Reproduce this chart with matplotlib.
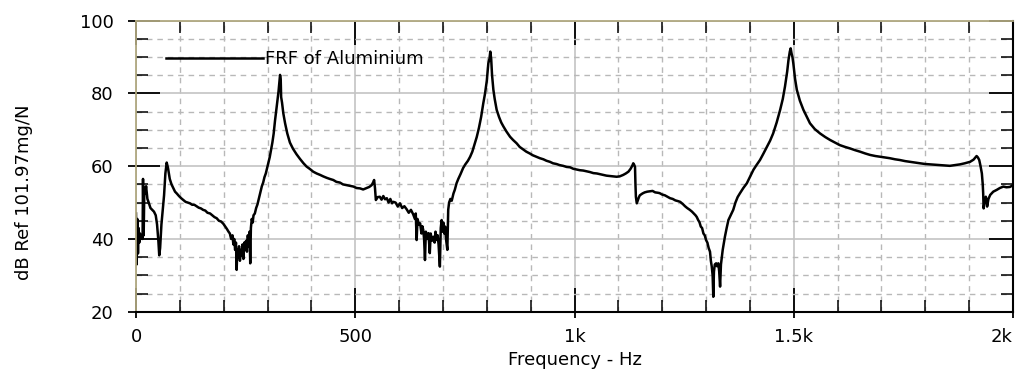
import matplotlib

matplotlib.use("Agg")

import matplotlib.pyplot as plt
from matplotlib.ticker import MultipleLocator, FixedLocator

# FRF of the aluminium specimen
freq = [
    0, 1.5, 3, 4.5, 6, 7.5, 9, 11, 13, 15, 16, 17.5, 19, 21, 23, 26, 29, 33, 37, 41,
    45, 48, 51, 53, 55, 58, 61, 64, 67, 70, 73, 77, 81, 85, 89, 93, 98, 103, 108, 113,
    118, 123, 128, 133, 138, 143, 148, 153, 158, 163, 169, 174, 179, 184, 189, 194, 199, 203, 207, 211,
    214, 217, 220, 222, 224, 226, 228, 229.5, 231, 233, 235, 237, 239, 241, 243, 245, 247, 249, 251, 253,
    255, 257, 259, 260.5, 262, 264, 266, 268, 271, 274, 277, 281, 284, 287, 290, 293, 296, 299, 302, 305,
    308, 311, 314, 317, 320, 323, 325, 327, 328.5, 330, 331, 333, 336, 340, 345, 351, 358, 366, 374, 382,
    389, 397, 404, 412, 420, 427, 435, 442, 450, 457, 465, 472, 480, 488, 496, 503, 511, 518, 526, 532,
    537.5, 541, 543, 545, 547, 551, 556, 560, 564, 568, 572, 576, 580, 584, 587, 592, 597, 602, 607, 612,
    617, 622, 627, 632, 636, 638, 640, 642, 645, 648, 651, 653, 655, 657, 659, 661, 664, 667, 670, 672,
    675, 678, 681, 683, 686, 688, 690, 693, 695, 697, 699, 701, 703, 705, 707, 710, 712, 714, 717, 720,
    724, 727, 731, 735, 740, 746, 751, 757, 762, 767, 772, 777, 782, 787, 792, 796, 800, 803.5, 806, 808,
    810, 812, 815, 818, 822.5, 828, 833, 838, 845, 853, 860, 868, 875, 883, 890, 898, 905, 913, 921, 929,
    936, 944, 951, 959, 966, 974, 982, 990, 997, 1005, 1012, 1020, 1028, 1035, 1043, 1051, 1058, 1066, 1073, 1081,
    1088, 1096, 1103, 1111, 1117, 1123, 1128, 1132, 1134, 1136, 1138, 1139, 1140, 1142, 1144, 1147, 1149, 1155, 1160, 1166,
    1172, 1178, 1184, 1190, 1194, 1200, 1206, 1212, 1218, 1224, 1230, 1236, 1241, 1247, 1252, 1257, 1263, 1268, 1272, 1276,
    1279, 1282, 1285, 1288, 1291, 1294, 1297, 1300, 1303, 1306, 1309, 1311, 1313, 1315, 1316.5, 1318, 1320, 1323, 1325, 1328,
    1330, 1332, 1334, 1336, 1338, 1340, 1343, 1347, 1351, 1356, 1362, 1367, 1372, 1377, 1385, 1393, 1400, 1408, 1415, 1423,
    1431, 1439, 1446, 1453, 1461, 1469, 1475, 1480, 1485, 1488, 1491, 1493, 1495, 1497, 1499, 1503, 1507, 1514, 1522, 1530,
    1537, 1548, 1560, 1572, 1583, 1594, 1605, 1617, 1628, 1640, 1651, 1663, 1674, 1686, 1697, 1708, 1719, 1731, 1742, 1754,
    1765, 1777, 1788, 1800, 1811, 1822, 1834, 1845, 1856, 1868, 1879, 1890, 1902, 1910, 1917, 1920, 1923, 1926, 1929, 1931,
    1932, 1933, 1935, 1938, 1940, 1941, 1944, 1948, 1955, 1963, 1970, 1978, 1985, 1993, 2000,
]
db = [
    47.0, 33.0, 45.5, 36.0, 43.0, 39.0, 41.5, 40.0, 41.0, 40.0, 56.5, 41.0, 54.0, 52.5, 54.5, 51.0, 50.0, 48.5, 48.0, 47.5,
    46.5, 44.0, 39.5, 35.5, 37.5, 44.0, 48.0, 52.0, 58.0, 61.0, 59.5, 56.5, 55.0, 54.0, 53.0, 52.5, 51.8, 51.2, 50.7, 50.2,
    50.0, 49.8, 49.4, 49.4, 49.0, 48.6, 48.4, 48.0, 47.8, 47.2, 47.0, 46.5, 46.0, 45.7, 45.0, 44.8, 44.2, 43.5, 42.8, 42.0,
    41.5, 40.0, 41.0, 38.5, 40.0, 37.0, 39.0, 31.5, 37.0, 35.0, 38.0, 34.0, 37.0, 35.5, 38.5, 34.5, 39.0, 37.0, 39.5, 36.5,
    41.0, 38.0, 42.0, 33.3, 43.0, 45.5, 44.5, 46.5, 47.0, 48.5, 49.5, 51.5, 53.0, 54.5, 55.5, 57.0, 58.0, 59.5, 61.0, 62.5,
    64.5, 66.5, 69.0, 72.5, 75.5, 78.5, 80.5, 83.0, 85.1, 84.0, 79.0, 77.5, 74.5, 71.8, 69.0, 66.5, 64.8, 63.3, 62.0, 60.8,
    59.9, 59.2, 58.5, 58.0, 57.6, 57.2, 56.8, 56.5, 56.2, 55.7, 55.5, 55.0, 54.8, 54.6, 54.4, 54.0, 53.9, 53.6, 54.0, 54.3,
    54.8, 55.6, 56.2, 54.0, 50.7, 51.5, 51.6, 50.8, 51.8, 50.9, 51.2, 50.0, 51.0, 49.8, 50.2, 50.0, 48.9, 49.8, 48.5, 49.0,
    48.2, 47.2, 48.0, 46.8, 45.5, 47.0, 39.7, 45.5, 44.0, 44.3, 41.5, 43.5, 42.5, 40.0, 34.2, 42.0, 40.0, 41.6, 36.1, 41.5,
    39.5, 40.6, 39.0, 42.0, 39.7, 41.0, 38.5, 32.4, 43.0, 45.2, 42.0, 44.5, 41.5, 43.4, 40.0, 37.0, 48.0, 50.0, 51.0, 50.5,
    52.5, 53.5, 55.3, 56.5, 57.8, 59.5, 60.5, 61.5, 62.6, 64.0, 66.0, 68.0, 70.5, 73.5, 77.3, 80.0, 83.5, 88.3, 89.5, 91.5,
    89.5, 85.0, 81.0, 78.5, 75.5, 73.5, 72.0, 70.9, 69.5, 68.1, 67.2, 66.3, 65.3, 64.6, 64.0, 63.5, 63.0, 62.6, 62.2, 61.9,
    61.5, 61.2, 60.8, 60.6, 60.3, 60.1, 59.8, 59.7, 59.3, 59.1, 58.9, 58.8, 58.6, 58.4, 58.1, 58.0, 57.8, 57.6, 57.4, 57.3,
    57.2, 57.1, 57.2, 57.6, 58.0, 58.5, 59.3, 60.2, 60.8, 60.4, 59.8, 55.0, 51.6, 49.8, 50.5, 51.5, 52.0, 52.5, 52.8, 53.0,
    53.1, 53.2, 52.8, 52.7, 52.6, 52.2, 52.0, 51.6, 51.2, 51.0, 50.6, 50.4, 50.2, 49.6, 49.0, 48.5, 48.0, 47.5, 47.0, 46.5,
    46.0, 45.2, 44.6, 43.4, 43.0, 41.5, 41.0, 39.7, 39.0, 37.5, 36.5, 34.0, 32.4, 30.0, 24.1, 31.0, 33.0, 33.3, 32.5, 33.3,
    31.0, 26.9, 33.0, 35.1, 37.0, 38.5, 40.6, 43.0, 45.2, 46.5, 48.0, 50.0, 51.5, 52.5, 54.0, 55.3, 57.0, 59.0, 60.3, 61.7,
    63.5, 65.4, 67.0, 69.0, 72.0, 75.5, 78.5, 81.9, 86.0, 89.2, 91.5, 92.4, 91.0, 90.0, 88.3, 84.0, 81.0, 78.0, 75.5, 73.5,
    71.8, 70.2, 69.0, 68.0, 67.2, 66.5, 65.8, 65.3, 64.9, 64.4, 64.0, 63.5, 63.1, 62.8, 62.6, 62.4, 62.2, 61.9, 61.7, 61.4,
    61.2, 61.0, 60.8, 60.6, 60.5, 60.4, 60.3, 60.2, 60.1, 60.3, 60.5, 60.8, 61.2, 61.8, 62.8, 62.4, 61.7, 60.0, 58.0, 55.0,
    52.5, 48.4, 50.0, 51.6, 50.5, 48.9, 51.0, 52.1, 53.0, 53.5, 54.0, 54.4, 54.2, 54.3, 54.8,
]

x_ticks = [0, 500, 1000, 1500, 2000]
x_ticklabels = ["0", "500", "1k", "1.5k", "2k"]
y_ticks = [20, 40, 60, 80, 100]

plt.rcParams["font.family"] = "DejaVu Sans"

fig = plt.figure(figsize=(10.16, 3.74), dpi=100)
ax = fig.add_axes([136 / 1016, 62.3 / 374, 877 / 1016, 291 / 374])

ax.plot(freq, db, color="black", lw=1.8, label="FRF of Aluminium")
ax.set_xlim(0, 2000)
ax.set_ylim(20, 100)

ax.xaxis.set_major_locator(FixedLocator(x_ticks))
ax.set_xticklabels(x_ticklabels)
ax.xaxis.set_minor_locator(MultipleLocator(100))
ax.yaxis.set_major_locator(FixedLocator(y_ticks))
ax.yaxis.set_minor_locator(MultipleLocator(5))

ax.set_axisbelow(True)
ax.grid(which="major", color="#c4c4c4", lw=1.2, ls="-")
ax.grid(which="minor", color="#b8b8b8", lw=1.0, ls=(0, (4, 3.5)))

ax.tick_params(which="major", direction="in", length=17, width=1.3, top=True, right=True, labelsize=13)
ax.tick_params(which="minor", direction="in", length=8.5, width=1.1, top=True, right=True)
ax.tick_params(axis="x", which="major", pad=12)
ax.tick_params(axis="y", which="major", pad=16)
ax.get_xticklabels()[-1].set_ha("right")

# sunken 3D frame: light top/left, dark bottom/right
for s in ["top", "left"]:
    ax.spines[s].set_color("#b0a880")
    ax.spines[s].set_linewidth(1.3)
for s in ["bottom", "right"]:
    ax.spines[s].set_color("black")
    ax.spines[s].set_linewidth(1.5)

# short outward stubs on the major ticks
sx = ax.secondary_xaxis("bottom")
sx.xaxis.set_major_locator(FixedLocator(x_ticks))
sx.tick_params(direction="out", length=4.5, width=1.3, labelbottom=False)
sx.xaxis.set_minor_locator(FixedLocator([]))
sx.spines["bottom"].set_visible(False)
sy = ax.secondary_yaxis("left")
sy.yaxis.set_major_locator(FixedLocator(y_ticks))
sy.tick_params(direction="out", length=6, width=1.3, labelleft=False)
sy.yaxis.set_minor_locator(FixedLocator([]))
sy.spines["left"].set_visible(False)

ax.set_xlabel("Frequency - Hz", fontsize=13)
ax.xaxis.set_label_coords(0.5, -0.135)
ax.set_ylabel("dB Ref 101.97mg/N", fontsize=13)
ax.yaxis.set_label_coords(-0.117, 0.41)

ax.legend(loc="center left", bbox_to_anchor=(0.034, 0.868), frameon=False,
          handlelength=5.4, handletextpad=0.1, borderpad=0, borderaxespad=0, fontsize=13)

fig.savefig("out.png", dpi=100)
